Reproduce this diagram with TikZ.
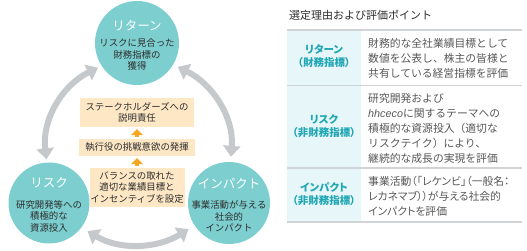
\documentclass[tikz,border=0pt]{standalone}
\usepackage{fontspec}
\setmainfont{Noto Sans CJK JP}
\newfontfamily\paltfont[RawFeature=+palt]{Noto Sans CJK JP}
\newfontfamily\latinfont{Liberation Sans}
\usetikzlibrary{arrows.meta}
\definecolor{goalfill}{RGB}{125,206,207}
\definecolor{boxfill}{RGB}{253,231,197}
\definecolor{upfill}{RGB}{246,166,35}
\definecolor{cyclegray}{RGB}{198,201,204}
\definecolor{tealtext}{RGB}{31,167,181}
\definecolor{labelbg}{RGB}{231,246,248}
\definecolor{rulegray}{RGB}{208,212,215}
\definecolor{bodygray}{RGB}{89,87,87}
\definecolor{inktext}{RGB}{45,45,45}
\begin{document}
\begin{tikzpicture}[x=1pt,y=1pt,every node/.style={inner sep=0pt,align=center,text=inktext,font=\fontsize{9.4pt}{11.5pt}\selectfont},
goal/.style={circle,fill=goalfill},goaltitle/.style={},
stepbox/.style={fill=boxfill},
cyclearrow/.style={draw=cyclegray,line width=6pt,{Triangle[width=17pt,length=11pt]}-{Triangle[width=17pt,length=11pt]}},
uparrow/.style={draw=upfill,line width=4pt,-{Triangle[width=12pt,length=6pt]},shorten <=2pt,shorten >=2pt},
lab/.style={text=tealtext,font=\paltfont\bfseries\fontsize{10.5pt}{13pt}\selectfont},
desc/.style={anchor=west,align=left,text=bodygray,font=\fontsize{10.8pt}{15pt}\selectfont}]
\useasboundingbox (0,0) rectangle (527,251);
% cycle of the three indicators
\node[goal,minimum size=84pt] (ret) at (137,208) {};
\node[goal,minimum size=81pt] (risk) at (49,48) {};
\node[goal,minimum size=82pt] (imp) at (229,48) {};
\node (rett) at (137,205.5) {{\color{white}\fontsize{12.5pt}{14pt}\selectfont リターン}\\[5pt]リスクに見合った\\財務指標の\\獲得};
\node (riskt) at (49,46) {{\color{white}\fontsize{12.5pt}{14pt}\selectfont リスク}\\[9pt]研究開発等への\\積極的な\\資源投入};
\node (impt) at (229,46) {{\color{white}\fontsize{12.5pt}{14pt}\selectfont インパクト}\\[9pt]事業活動が与える\\社会的\\インパクト};
\draw[cyclearrow,shorten <=3pt,shorten >=4pt] (risk.93) to[out=97,in=206] (ret.213);
\draw[cyclearrow,shorten <=5pt,shorten >=5pt] (ret.329) to[out=334,in=85] (imp.88);
\draw[cyclearrow,shorten <=7pt,shorten >=7pt] (imp.213) to[out=212,in=329] (risk.323);
% steps in the middle
\node[stepbox,minimum width=114pt,minimum height=29pt] (b1) at (137,138.5) {ステークホルダーズへの\\説明責任};
\node[stepbox,minimum width=116pt,minimum height=17pt] (b2) at (137,103.5) {執行役の挑戦意欲の発揮};
\node[stepbox,minimum width=95pt,minimum height=39pt] (b3) at (137,63.5) {バランスの取れた\\適切な業績目標と\\インセンティブを設定};
\draw[uparrow] (b3.north)--(b2.south);\draw[uparrow] (b2.north)--(b1.south);
% table
\node[anchor=west,font=\fontsize{11pt}{13pt}\selectfont] (ttl) at (289,236) {選定理由および評価ポイント};
\fill[labelbg] (287,29) rectangle (361,221);
\foreach \y in {221,165.5,83,29} \draw[rulegray,line width=1.3pt] (287,\y)--(522,\y);
\node[lab] (l1) at (324,194.5) {リターン\\（財務指標）};
\node[lab] (l2) at (324,124.5) {リスク\\（非財務指標）};
\node[lab] (l3) at (324,57) {インパクト\\（非財務指標）};
\node[desc] (d1) at (368,193) {財務的な全社業績目標として\\数値を公表し、株主の皆様と\\共有している経営指標を評価};
\node[desc] (d2) at (368,123) {研究開発および\\{\latinfont\itshape hhceco}に関するテーマへの\\積極的な資源投入（適切な\\リスクテイク）により、\\継続的な成長の実現を評価};
\node[desc,font=\paltfont\fontsize{10.8pt}{15pt}\selectfont] (d3) at (368,54.5) {事業活動（「レケンビ」（一般名：\\レカネマブ））が与える社会的\\インパクトを評価};
\end{tikzpicture}
\end{document}
